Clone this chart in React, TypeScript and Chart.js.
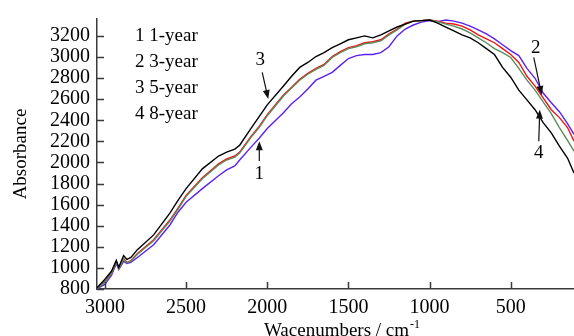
import { useEffect, useRef } from "react";
import { Chart, registerables } from "chart.js";

Chart.register(...registerables);

// Wavenumbers (cm-1)
const wavenumbers = [
  3050, 3000, 2960, 2930, 2915, 2885, 2865, 2840, 2800, 2700, 2600, 2550, 2500, 2400, 2300, 2250, 2200, 2170,
  2100, 2050, 2000, 1900, 1850, 1800, 1750, 1700, 1650, 1600, 1550, 1500, 1450, 1400, 1350, 1300, 1250, 1200,
  1150, 1100, 1050, 1000, 950, 900, 850, 800, 750, 700, 650, 600, 550, 500, 450, 400, 350, 300, 250, 200, 150, 110,
];

// 1 1-year (violet)
const year1 = [
  800, 846, 930, 1042, 986, 1061, 1042, 1052, 1099, 1220, 1407, 1528, 1622, 1752, 1874, 1930, 1967, 2023,
  2145, 2229, 2322, 2471, 2556, 2621, 2696, 2780, 2817, 2854, 2920, 2985, 3013, 3023, 3023, 3041, 3097, 3200,
  3265, 3303, 3330, 3345, 3335, 3350, 3340, 3321, 3293, 3256, 3219, 3172, 3116, 3060, 3013, 2892, 2798, 2658, 2566, 2481, 2369, 2266,
];

// 2 3-year (red)
const year3 = [
  805, 870, 949, 1061, 996, 1089, 1052, 1070, 1136, 1267, 1454, 1566, 1687, 1855, 1986, 2033, 2061, 2098,
  2247, 2341, 2453, 2640, 2714, 2789, 2845, 2892, 2929, 3004, 3051, 3088, 3107, 3135, 3144, 3163, 3219, 3265,
  3321, 3340, 3345, 3350, 3340, 3321, 3312, 3293, 3256, 3209, 3172, 3135, 3079, 3023, 2948, 2817, 2724, 2612, 2500, 2425, 2331, 2201,
];

// 3 5-year (black)
const year5 = [
  810, 893, 968, 1071, 1005, 1117, 1080, 1099, 1173, 1313, 1519, 1640, 1752, 1939, 2061, 2098, 2126, 2163,
  2322, 2434, 2546, 2724, 2817, 2901, 2948, 3004, 3041, 3088, 3125, 3163, 3181, 3200, 3181, 3209, 3247, 3284,
  3312, 3340, 3345, 3350, 3321, 3284, 3247, 3209, 3181, 3135, 3079, 3023, 2901, 2808, 2686, 2593, 2500, 2378, 2280, 2154, 2042, 1900,
];

// 4 8-year (green)
const year8 = [
  805, 865, 945, 1058, 993, 1085, 1048, 1065, 1130, 1257, 1444, 1556, 1678, 1846, 1977, 2023, 2051, 2089,
  2238, 2331, 2443, 2630, 2705, 2780, 2836, 2882, 2920, 2995, 3041, 3079, 3097, 3125, 3135, 3153, 3209, 3256,
  3312, 3340, 3345, 3350, 3335, 3312, 3293, 3265, 3228, 3181, 3135, 3079, 3041, 2995, 2892, 2780, 2686, 2574, 2462, 2331, 2210, 2107,
];

const xTicks = [3000, 2500, 2000, 1500, 1000, 500];
const yTicks = [800, 1000, 1200, 1400, 1600, 1800, 2000, 2200, 2400, 2600, 2800, 3000, 3200];
const legendLabels = ["1 1-year", "2 3-year", "3 5-year", "4 8-year"];

// Curve annotations, in data units: label, label position, arrow start, arrow tip
const noteLabels = ["3", "1", "2", "4"];
const noteAt = [[2043, 2967], [2049, 1892], [346, 3088], [327, 2089]];
const arrowFrom = [[2031, 2854], [2049, 2014], [358, 2995], [327, 2201]];
const arrowTo = [[1994, 2602], [2049, 2201], [309, 2640], [321, 2500]];

const FONT = '"Liberation Serif", "Times New Roman", serif';

const decorPlugin = {
  id: "decor",
  afterDraw(chart: any) {
    const ctx = chart.ctx as CanvasRenderingContext2D;
    const xs = chart.scales.x;
    const ys = chart.scales.y;
    const a = chart.chartArea;
    ctx.save();
    // inward ticks
    ctx.strokeStyle = "#3a3a3a";
    ctx.lineWidth = 1.5;
    ctx.beginPath();
    xTicks.forEach((v) => {
      const px = Math.round(xs.getPixelForValue(v)) + 0.5;
      ctx.moveTo(px, a.bottom);
      ctx.lineTo(px, a.bottom - 7);
    });
    yTicks.forEach((v) => {
      const py = Math.round(ys.getPixelForValue(v)) + 0.5;
      ctx.moveTo(a.left, py);
      ctx.lineTo(a.left + 7, py);
    });
    ctx.stroke();

    // legend text
    ctx.fillStyle = "#000";
    ctx.font = `19px ${FONT}`;
    ctx.textAlign = "left";
    ctx.textBaseline = "middle";
    legendLabels.forEach((t, i) => ctx.fillText(t, a.left + 38, a.top + 17 + i * 26));

    // annotations
    ctx.textAlign = "center";
    noteLabels.forEach((t, i) => {
      const tx = xs.getPixelForValue(noteAt[i][0]);
      const ty = ys.getPixelForValue(noteAt[i][1]);
      ctx.fillStyle = "#000";
      ctx.fillText(t, tx, ty);
      const x0 = xs.getPixelForValue(arrowFrom[i][0]);
      const y0 = ys.getPixelForValue(arrowFrom[i][1]);
      const x1 = xs.getPixelForValue(arrowTo[i][0]);
      const y1 = ys.getPixelForValue(arrowTo[i][1]);
      const ang = Math.atan2(y1 - y0, x1 - x0);
      const hl = 9;
      const hw = 3.5;
      ctx.strokeStyle = "#111";
      ctx.lineWidth = 1.2;
      ctx.beginPath();
      ctx.moveTo(x0, y0);
      ctx.lineTo(x1 - Math.cos(ang) * hl * 0.8, y1 - Math.sin(ang) * hl * 0.8);
      ctx.stroke();
      ctx.beginPath();
      ctx.moveTo(x1, y1);
      ctx.lineTo(x1 - Math.cos(ang) * hl - Math.sin(ang) * hw, y1 - Math.sin(ang) * hl + Math.cos(ang) * hw);
      ctx.lineTo(x1 - Math.cos(ang) * hl + Math.sin(ang) * hw, y1 - Math.sin(ang) * hl - Math.cos(ang) * hw);
      ctx.closePath();
      ctx.fillStyle = "#111";
      ctx.fill();
    });

    // x-axis title with superscript
    ctx.fillStyle = "#000";
    ctx.textAlign = "left";
    ctx.textBaseline = "alphabetic";
    const main = "Wacenumbers / cm";
    const sup = "-1";
    ctx.font = `19px ${FONT}`;
    const w1 = ctx.measureText(main).width;
    ctx.font = `12px ${FONT}`;
    const w2 = ctx.measureText(sup).width;
    const cx = (a.left + a.right) / 2 + 6;
    const start = cx - (w1 + w2) / 2;
    const base = a.bottom + 47;
    ctx.font = `19px ${FONT}`;
    ctx.fillText(main, start, base);
    ctx.font = `12px ${FONT}`;
    ctx.fillText(sup, start + w1 + 1, base - 8);
    ctx.restore();
  },
};

export default function App() {
  const ref = useRef<HTMLCanvasElement | null>(null);

  useEffect(() => {
    if (!ref.current) return;
    const mk = (label: string, values: number[], color: string, order: number) => ({
      label,
      data: wavenumbers.map((w, i) => ({ x: w, y: values[i] })),
      borderColor: color,
      backgroundColor: color,
      borderWidth: 1.4,
      pointRadius: 0,
      tension: 0,
      fill: false,
      order,
    });
    const chart = new Chart(ref.current, {
      type: "line",
      data: {
        datasets: [
          mk(legendLabels[0], year1, "#5a22f0", 3),
          mk(legendLabels[1], year3, "#ee1515", 2),
          mk(legendLabels[2], year5, "#000000", 0),
          mk(legendLabels[3], year8, "#5c8c5c", 1),
        ],
      },
      options: {
        animation: false,
        responsive: false,
        devicePixelRatio: 1,
        layout: { padding: { left: 0, right: 0, top: 16, bottom: 0 } },
        plugins: { legend: { display: false }, tooltip: { enabled: false } },
        scales: {
          x: {
            type: "linear",
            reverse: true,
            min: 110,
            max: 3049,
            grid: { display: false, drawTicks: false },
            border: { display: true, color: "#3a3a3a", width: 1.5 },
            afterBuildTicks: (s: any) => {
              s.ticks = xTicks.map((v) => ({ value: v }));
            },
            afterFit: (s: any) => {
              s.height = 47;
            },
            ticks: {
              autoSkip: false,
              maxRotation: 0,
              padding: 7,
              color: "#000",
              font: { family: FONT, size: 20 },
              callback: (v: any) => String(v),
            },
          },
          y: {
            type: "linear",
            min: 800,
            max: 3360,
            grid: { display: false, drawTicks: false },
            border: { display: true, color: "#3a3a3a", width: 1.5 },
            afterBuildTicks: (s: any) => {
              s.ticks = yTicks.map((v) => ({ value: v }));
            },
            afterFit: (s: any) => {
              s.width = 97;
            },
            ticks: {
              autoSkip: false,
              padding: 7,
              color: "#000",
              font: { family: FONT, size: 20 },
              callback: (v: any) => String(v),
            },
            title: {
              display: true,
              text: "Absorbance",
              color: "#000",
              font: { family: FONT, size: 19 },
              padding: { top: 10, bottom: 0 },
            },
          },
        },
      },
      plugins: [decorPlugin],
    });
    return () => chart.destroy();
  }, []);

  return (
    <div style={{ position: "fixed", left: 0, top: 0, width: 574, height: 336, background: "#fff" }}>
      <canvas ref={ref} width={574} height={336} style={{ width: 574, height: 336, display: "block" }} />
    </div>
  );
}
